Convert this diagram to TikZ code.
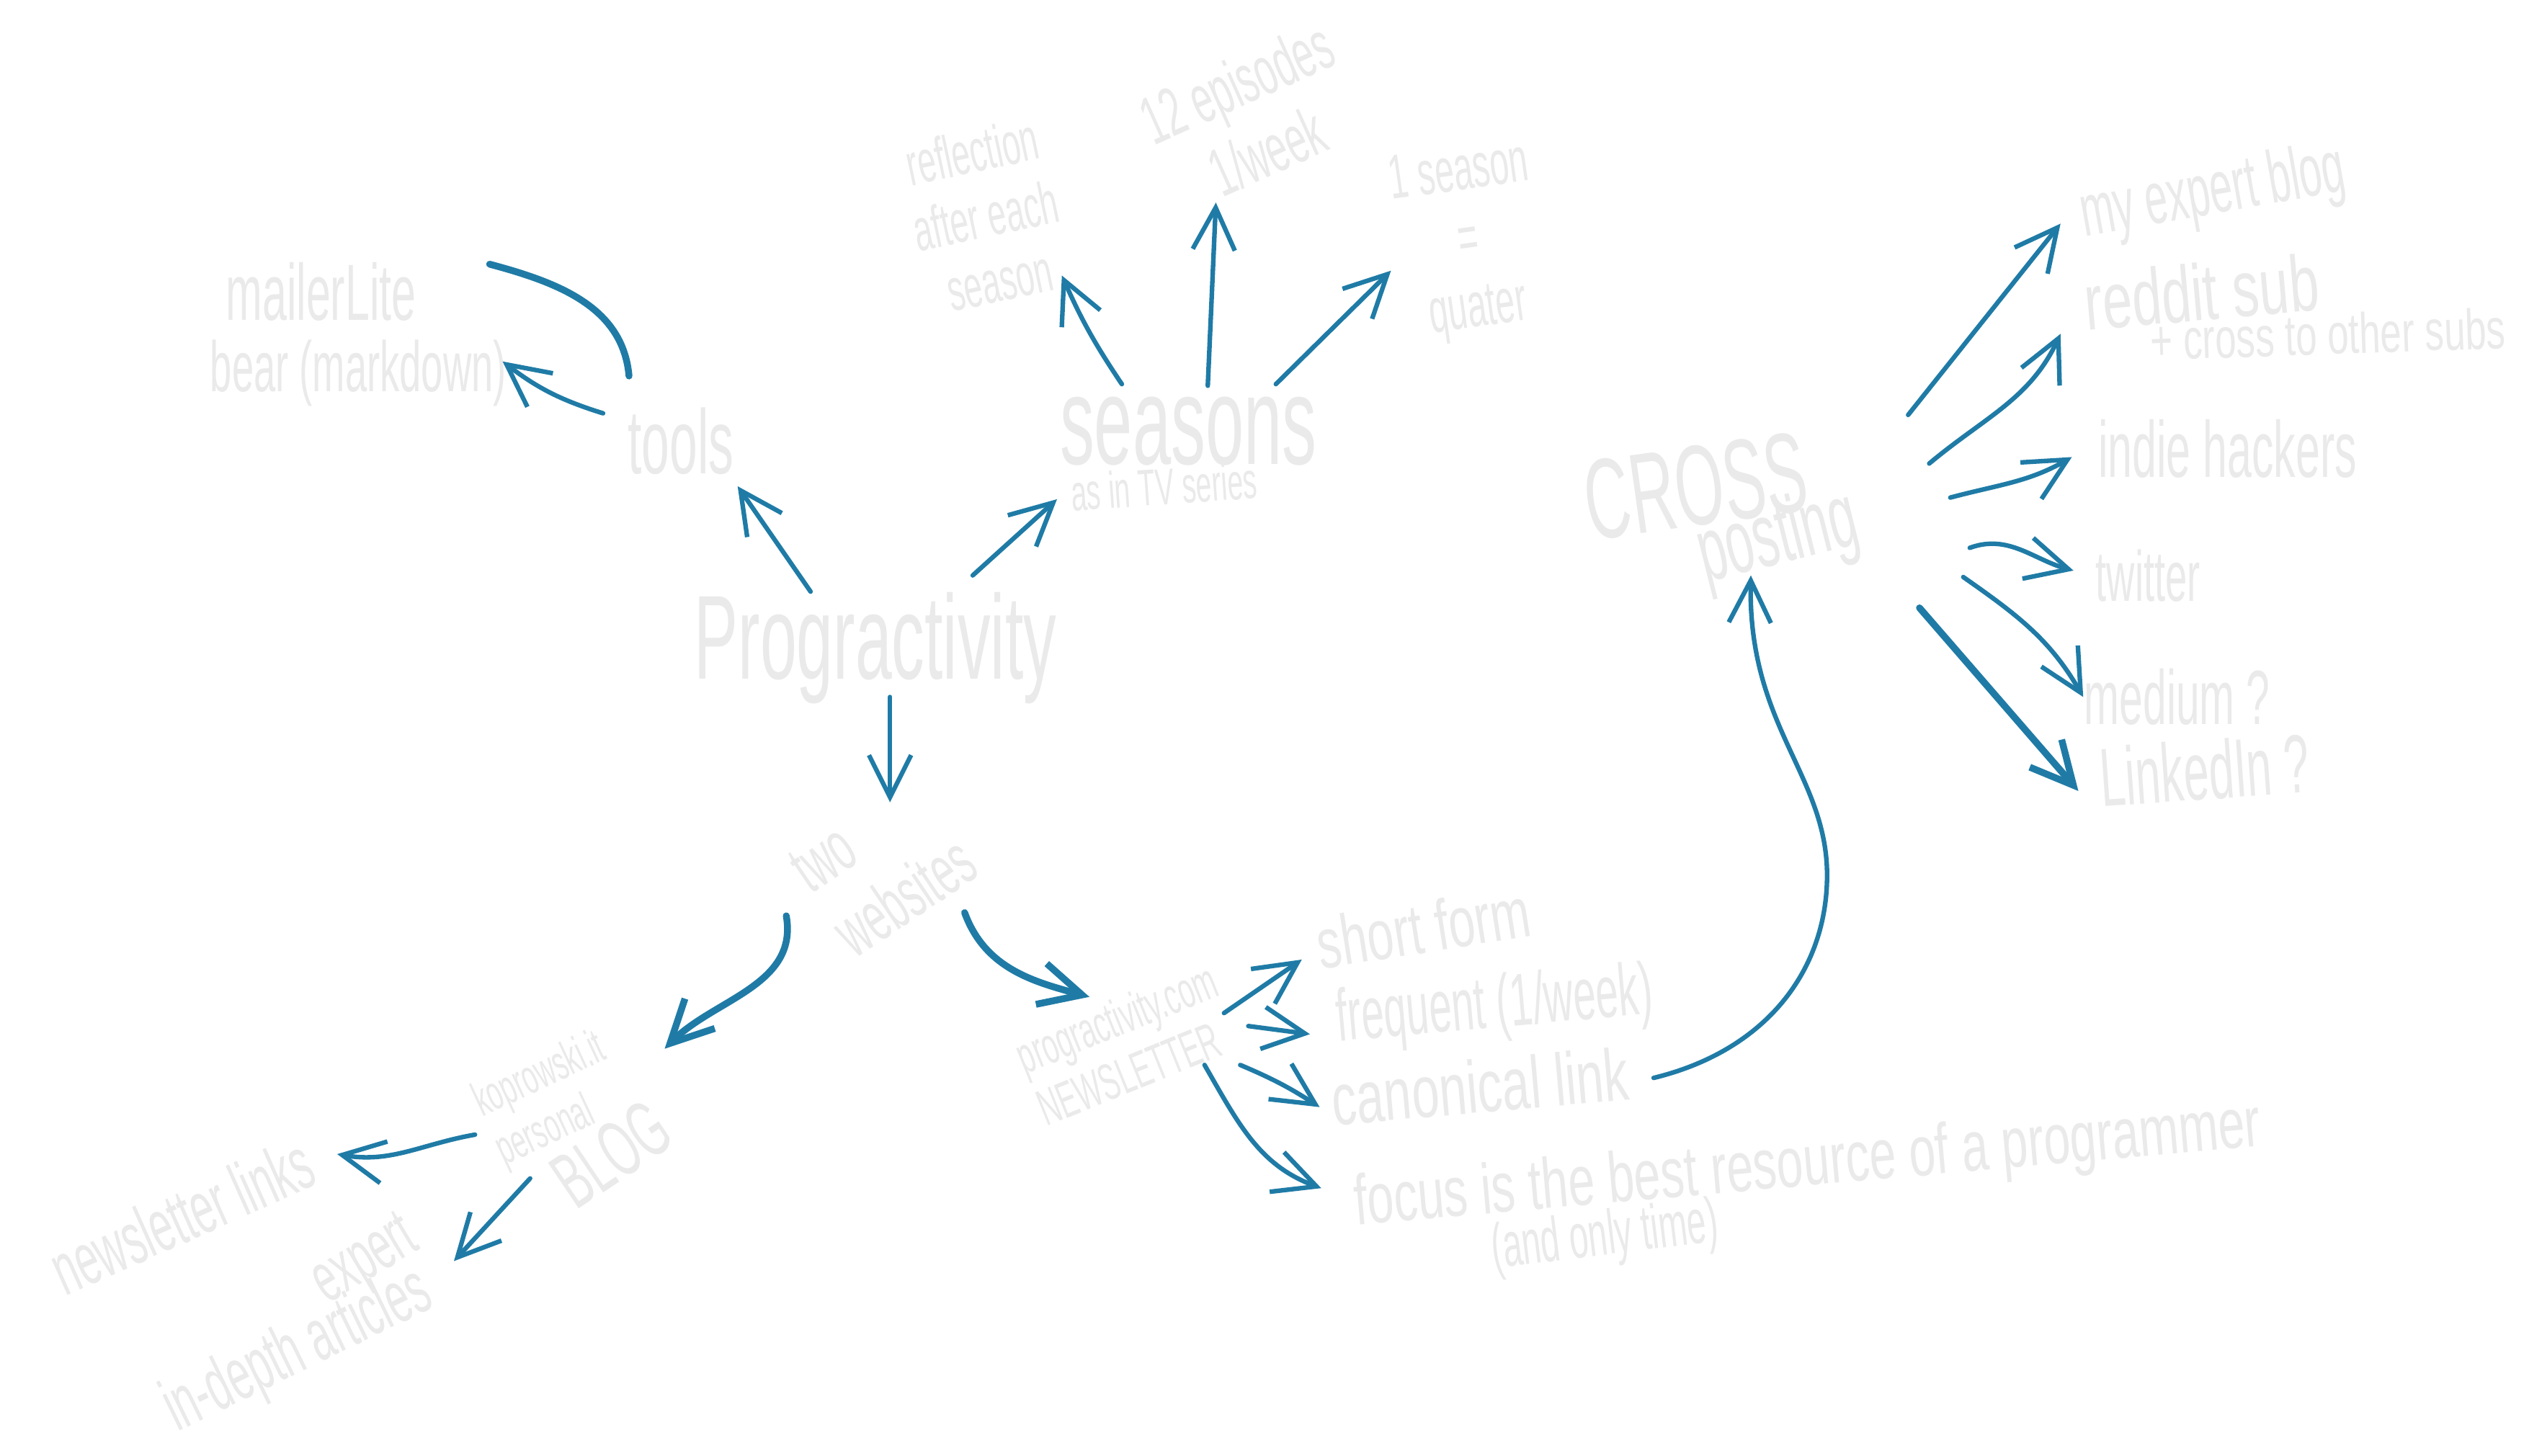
\documentclass[tikz,border=0pt]{standalone}
\usepackage{fontspec}
\newfontfamily\hand[FakeStretch=0.55]{Liberation Sans}
\newfontfamily\handwide[FakeStretch=0.67]{Liberation Sans}
\usetikzlibrary{arrows.meta}
\definecolor{penblue}{RGB}{31,123,166}
\definecolor{chalk}{RGB}{234,234,234}

\begin{document}
\begin{tikzpicture}[x=0.1mm, y=0.1mm,
  hw/.style={text=chalk, inner sep=1pt, align=center,
    font=\hand\fontsize{#1}{1.1\dimexpr #1pt\relax}\selectfont},
  hwide/.style={hw=#1, font=\handwide\fontsize{#1}{1.1\dimexpr #1pt\relax}\selectfont},
  penline/.style={draw=penblue, line width=0.8pt, line cap=round},
  pen/.style={penline, -{Straight Barb[length=2.6mm,width=2.6mm]}},
  heavy/.style={pen, line width=1.2pt}]

\fill[white] (0,0) rectangle (1568,898);
\useasboundingbox (0,0) rectangle (1568,898);

% Centre
\node[hw=21] (prog) at (540,498) {Progractivity};

% Tools
\node[hw=16] (tools) at (420,626) {tools};
\node[hw=14] (mailer) at (198,718) {mailerLite};
\node[hw=12.5] (bear) at (221,668) {bear (markdown)};

% Seasons
\node[hw=22] (seasons) at (733,632) {seasons};
\node[hw=9, rotate=4] (tvseries) at (718,598) {as in TV series};
\node[hw=10.5, rotate=12] (reflect) at (608,765) {reflection\\after each\\season};
\node[hw=12, rotate=24] (episodes) at (772,826) {12 episodes\\1/week};
\node[hw=11, rotate=8] (quarter) at (906,748) {1 season\\=\\quater};

% Cross posting
\node[hw=20, rotate=8] (cross) at (1046,598) {CROSS};
\node[hw=16, rotate=14] (posting) at (1097,565) {posting};
\node[hw=13, rotate=10] (blog) at (1365,778) {my expert blog};
\node[hwide=14, rotate=5] (reddit) at (1358,718) {reddit sub};
\node[hwide=10, rotate=2] (subs) at (1436,692) {+ cross to other subs};
\node[hw=14] (indie) at (1374,621) {indie hackers};
\node[hw=12.5] (twitter) at (1325,543) {twitter};
\node[hw=13.5] (medium) at (1343,468) {medium ?};
\node[hw=14.5, rotate=4] (linkedin) at (1360,423) {LinkedIn ?};

% Websites
\node[hw=12.5, rotate=34, align=left] (websites) at (545,364) {two\\websites};
\node[hw=9, rotate=22, align=left] (newsletter) at (695,254) {progractivity.com\\NEWSLETTER};
\node[hwide=12.5, rotate=9] (short) at (878,326) {short form};
\node[hw=13, rotate=5] (frequent) at (922,276) {frequent (1/week)};
\node[hwide=13, rotate=5] (canonical) at (913,228) {canonical link};
\node[hwide=12.5, rotate=5] (focus) at (1115,178) {focus is the best resource of a programmer};
\node[hw=11, rotate=7] (onlytime) at (990,134) {(and only time)};
\node[hw=8.5, rotate=25, align=left] (koprowski) at (340,219) {koprowski.it\\personal};
\node[hw=14, rotate=34] (blogword) at (377,186) {BLOG};
\node[hw=13, rotate=24] (nllinks) at (112,148) {newsletter links};
\node[hw=12.5, rotate=31] (expert) at (226,119) {expert};
\node[hw=13, rotate=26] (indepth) at (184,64) {in-depth articles};

% Arrows out of the centre
\draw[pen] ([shift={(-40,35)}]prog.center) -- ([shift={(35,-28)}]tools.center);
\draw[pen] ([shift={(60,45)}]prog.center) -- ([shift={(-81,-42)}]seasons.center);
\draw[pen] ([shift={(9,-30)}]prog.center) -- ([shift={(4,39)}]websites.center);

% Tools arrows
\draw[pen] ([shift={(-48,17)}]tools.center) to[bend left=10] ([shift={(89,7)}]bear.center);
\draw[penline, line width=1.2pt] ([shift={(104,17)}]mailer.center) to[out=-15,in=95] ([shift={(-32,40)}]tools.center);

% Seasons arrows
\draw[pen] ([shift={(-41,29)}]seasons.center) to[bend left=5] ([shift={(47,-37)}]reflect.center);
\draw[pen] ([shift={(12,28)}]seasons.center) -- ([shift={(-22,-53)}]episodes.center);
\draw[pen] ([shift={(54,29)}]seasons.center) -- ([shift={(-48,-17)}]quarter.center);

% Websites arrows
\draw[heavy] ([shift={(-60,-31)}]websites.center) to[out=-80,in=45] ([shift={(70,32)}]koprowski.center);
\draw[heavy] ([shift={(50,-29)}]websites.center) to[out=-70,in=165] ([shift={(-23,29)}]newsletter.center);
\draw[pen] ([shift={(-47,-21)}]koprowski.center) to[out=190,in=-10] ([shift={(96,38)}]nllinks.center);
\draw[pen] ([shift={(-50,-15)}]blogword.center) -- ([shift={(54,1)}]expert.center);
\draw[pen] ([shift={(60,19)}]newsletter.center) -- ([shift={(-75,-20)}]short.center);
\draw[pen] ([shift={(75,11)}]newsletter.center) -- ([shift={(-114,-16)}]frequent.center);
\draw[pen] ([shift={(70,-13)}]newsletter.center) to[bend left=5] ([shift={(-99,-13)}]canonical.center);
\draw[pen] ([shift={(48,-13)}]newsletter.center) to[out=-60,in=160] ([shift={(-300,-13)}]focus.center);

% Canonical link back to cross posting
\draw[pen] ([shift={(107,5)}]canonical.center) .. controls (1090,250) and (1127,300) .. (1127,358)
  .. controls (1127,420) and (1078,450) .. ([shift={(-17,-22)}]posting.center);

% Cross posting arrows
\draw[pen] ([shift={(131,44)}]cross.center) -- ([shift={(-94,-18)}]blog.center);
\draw[pen] ([shift={(144,14)}]cross.center) to[out=40,in=-115] ([shift={(-87,-26)}]reddit.center);
\draw[pen] ([shift={(157,-7)}]cross.center) to[out=15,in=-150] ([shift={(-96,-5)}]indie.center);
\draw[pen] ([shift={(169,-38)}]cross.center) to[out=20,in=165] ([shift={(-46,3)}]twitter.center);
\draw[pen] ([shift={(165,-56)}]cross.center) to[out=-35,in=120] ([shift={(-58,0)}]medium.center);
\draw[heavy] ([shift={(138,-75)}]cross.center) -- ([shift={(-78,-13)}]linkedin.center);

\end{tikzpicture}
\end{document}
